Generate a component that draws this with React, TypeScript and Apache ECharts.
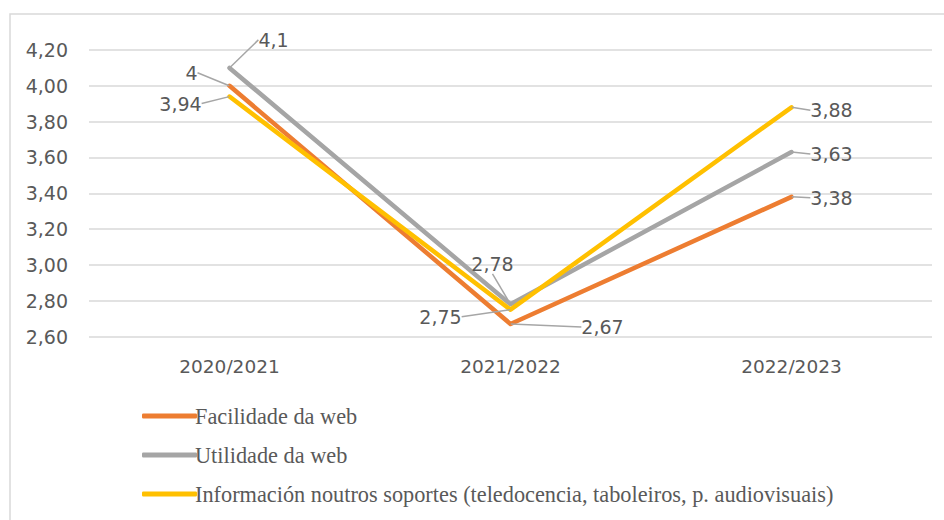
import React, { useEffect, useRef } from "react";
import * as echarts from "echarts";

const categories = ["2020/2021", "2021/2022", "2022/2023"];
const seriesNames = [
  "Facilidade da web",
  "Utilidade da web",
  "Información noutros soportes (teledocencia, taboleiros, p. audiovisuais)",
];
const facilidade = [4, 2.67, 3.38];
const utilidade = [4.1, 2.78, 3.63];
const informacion = [3.94, 2.75, 3.88];
const colors = ["#ED7D31", "#A5A5A5", "#FFC000"];

// label offsets (px) relative to each point: [series][dataIndex] = [dx, dy]
const labelOffsets = [
  [[-38, -13], [92, 3], [40, 1]],
  [[44, -28], [-18, -40], [40, 2]],
  [[-49, 7], [-70, 7], [40, 3]],
];

const fmt = (v: number) => String(v).replace(".", ",");

export default function App() {
  const ref = useRef<HTMLDivElement>(null);
  useEffect(() => {
    const chart = echarts.init(ref.current!, undefined, { renderer: "svg" });
    const dataSets = [facilidade, utilidade, informacion];
    chart.setOption({
      animation: false,
      backgroundColor: "#ffffff",
      graphic: [
        {
          type: "rect",
          shape: { x: 10, y: 14, width: 1000, height: 600 },
          style: { fill: "none", stroke: "#D9D9D9", lineWidth: 1.5 },
          silent: true,
        },
      ],
      grid: { left: 89, right: 12, top: 50, bottom: 183.5, containLabel: false },
      xAxis: {
        type: "category",
        data: categories,
        boundaryGap: true,
        axisLine: { show: false },
        axisTick: { show: false },
        axisLabel: {
          color: "#595959",
          fontFamily: "DejaVu Sans",
          fontSize: 18.5,
          margin: 20,
        },
      },
      yAxis: {
        type: "value",
        min: 2.6,
        max: 4.2,
        interval: 0.2,
        axisLine: { show: false },
        axisTick: { show: false },
        splitLine: { lineStyle: { color: "#D9D9D9", width: 1.5 } },
        axisLabel: {
          color: "#595959",
          fontFamily: "DejaVu Sans",
          fontSize: 19,
          margin: 21,
          formatter: (v: number) => v.toFixed(2).replace(".", ","),
        },
      },
      legend: {
        orient: "vertical",
        left: 137,
        top: 400,
        itemWidth: 55,
        itemHeight: 5,
        itemGap: 17,
        icon: "roundRect",
        textStyle: {
          color: "#595959",
          fontFamily: "Liberation Serif",
          fontSize: 22.3,
          padding: [0, 0, 0, -7],
        },
        data: seriesNames,
      },
      series: dataSets.map((d, si) => ({
        name: seriesNames[si],
        type: "line",
        data: d,
        color: colors[si],
        symbol: "circle",
        symbolSize: 0.5,
        showSymbol: true,
        lineStyle: { width: 4.5, color: colors[si], cap: "round", join: "round" },
        itemStyle: { color: colors[si] },
        label: {
          show: true,
          position: "inside",
          color: "#595959",
          fontFamily: "DejaVu Sans",
          fontSize: 19,
          formatter: (p: any) => fmt(p.value),
        },
        labelLine: {
          show: true,
          lineStyle: { color: "#A6A6A6", width: 1.5 },
        },
        labelLayout: (p: any) => {
          const o = labelOffsets[si][p.dataIndex];
          return { dx: o[0], dy: o[1] };
        },
      })),
    });
    return () => chart.dispose();
  }, []);
  return (
    <div
      ref={ref}
      style={{ position: "fixed", left: 0, top: 0, width: 944, height: 520 }}
    />
  );
}
